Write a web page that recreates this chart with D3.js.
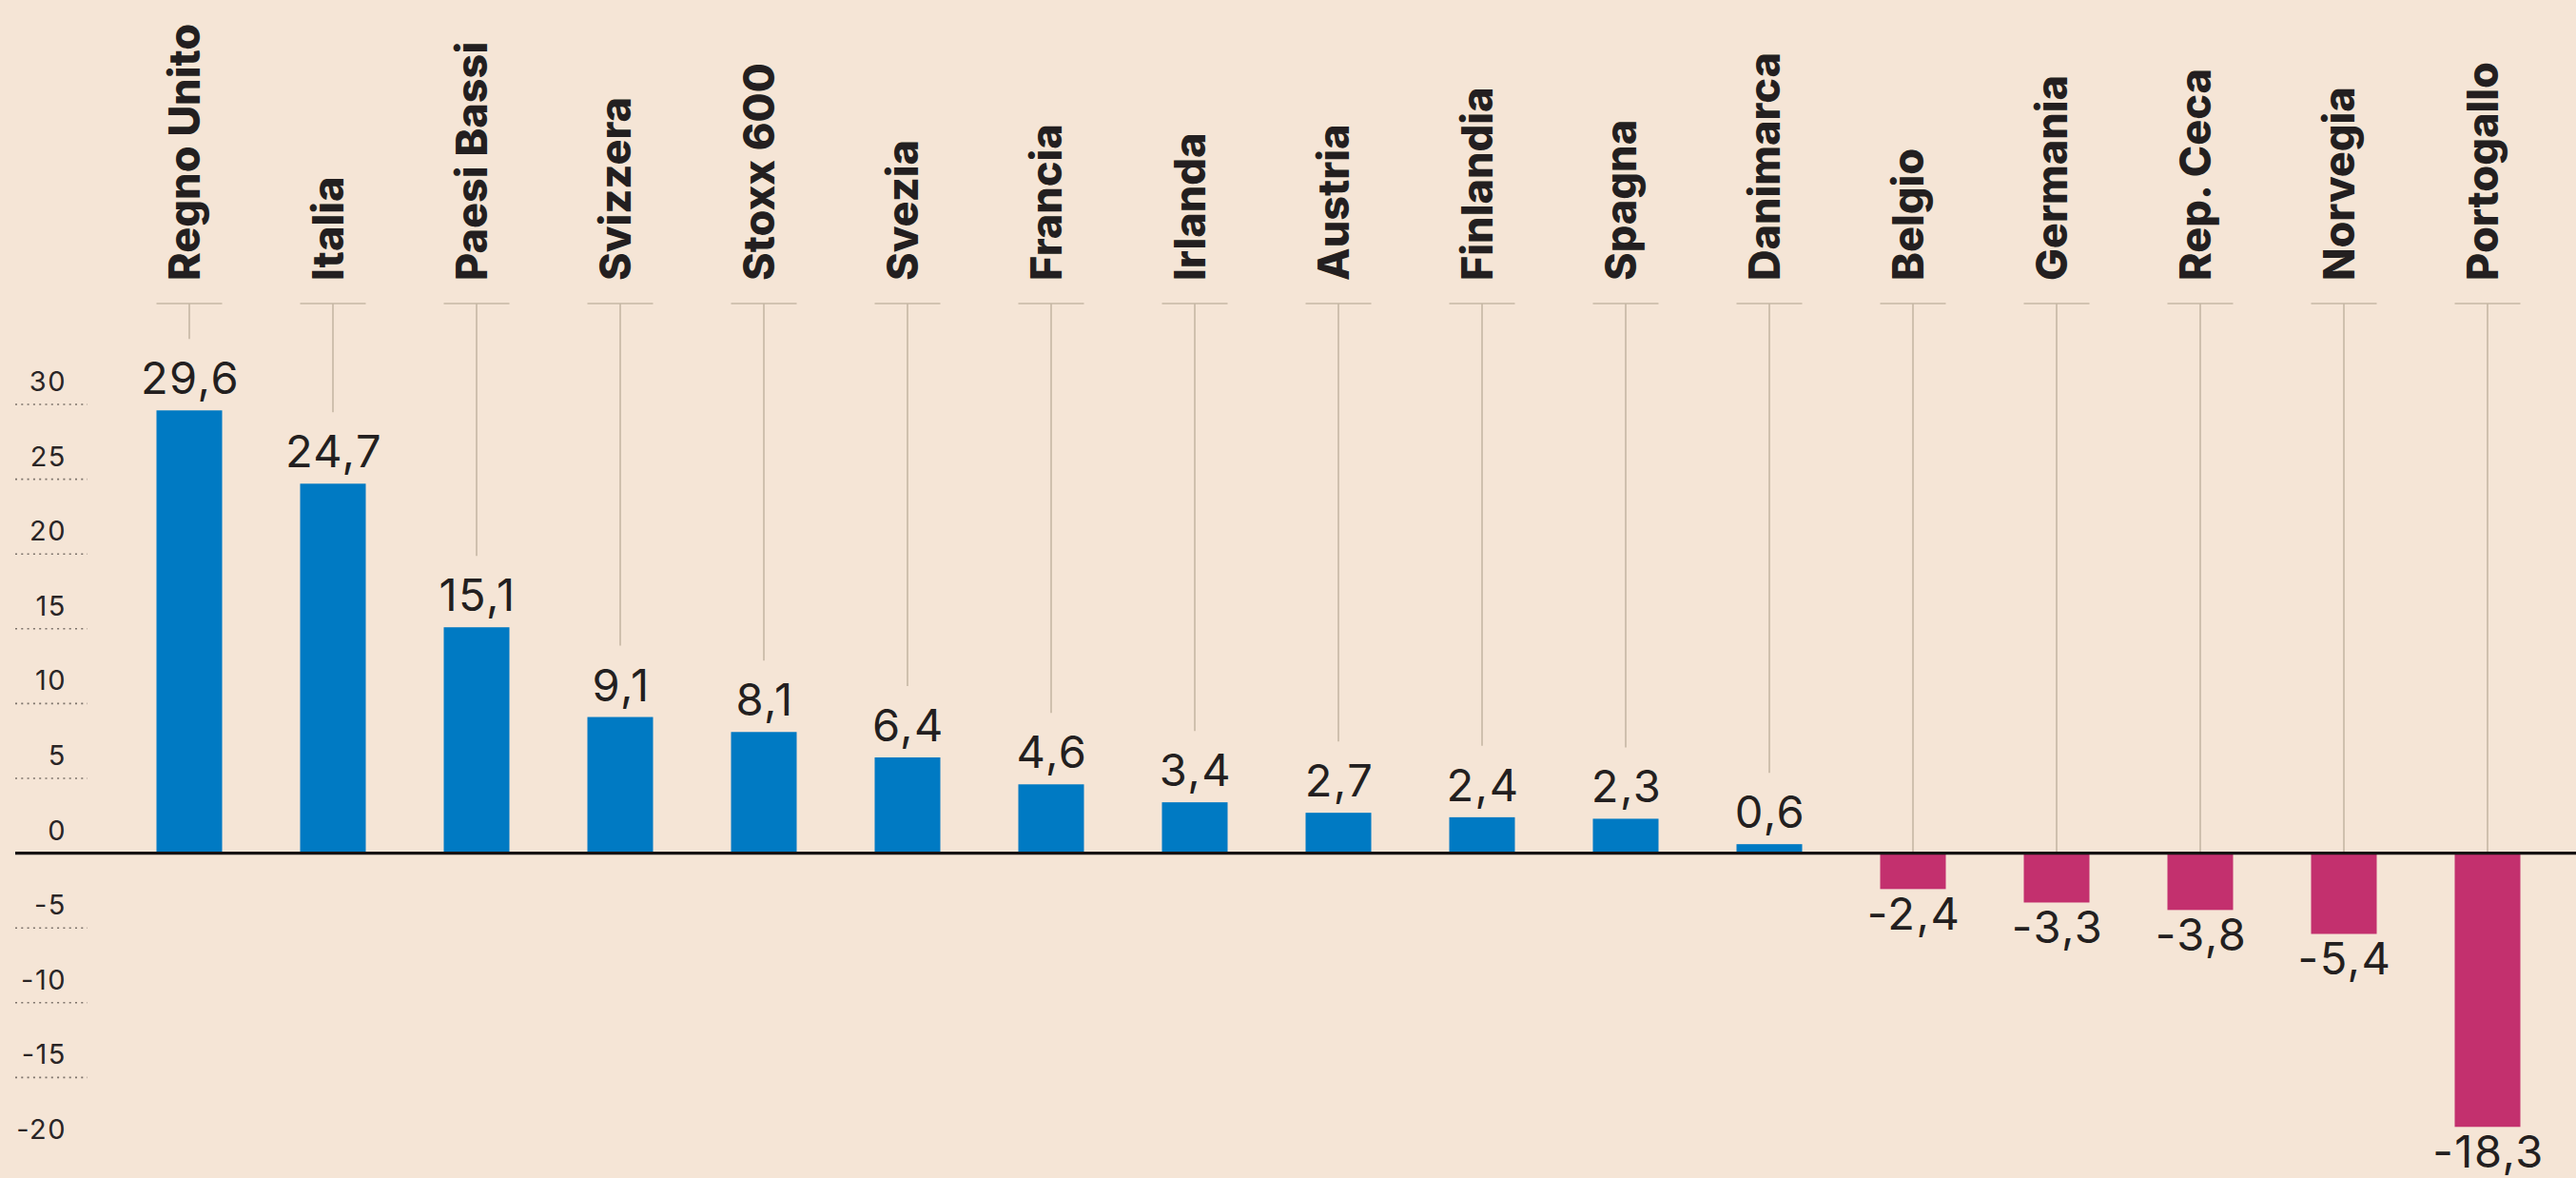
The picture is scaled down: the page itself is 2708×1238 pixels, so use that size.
<!DOCTYPE html>
<html><head><meta charset="utf-8">
<script src="https://cdn.jsdelivr.net/npm/d3@7"></script>
<style>
html,body{margin:0;padding:0;background:#F5E5D6;}
svg{display:block;}
</style></head>
<body>
<svg id="chart" width="2708" height="1238"></svg>
<script>
const categories = ["Regno Unito","Italia","Paesi Bassi","Svizzera","Stoxx 600","Svezia","Francia","Irlanda","Austria","Finlandia","Spagna","Danimarca","Belgio","Germania","Rep. Ceca","Norvegia","Portogallo"];
const values = [29.6,24.7,15.1,9.1,8.1,6.4,4.6,3.4,2.7,2.4,2.3,0.6,-2.4,-3.3,-3.8,-5.4,-18.3];
const yTicks = [30,25,20,15,10,5,0,-5,-10,-15,-20];
const yTickLabels = ["30","25","20","15","10","5","0","-5","-10","-15","-20"];
const dottedTicks = [30,25,20,15,10,5,-5,-10,-15];

const W = 2708, H = 1238;
const svg = d3.select("#chart");
svg.append("rect").attr("width",W).attr("height",H).attr("fill","#F5E5D6");

const x = d3.scaleBand().domain(categories).range([123.5, 2690.5]).paddingInner(0.543).paddingOuter(0.2715);
const y = d3.scaleLinear().domain([-20,30]).range([1211, 425]);
const locale = d3.formatLocale({decimal:",", thousands:".", grouping:[3], currency:["€",""], minus:"-"});
const fmt = locale.format(".1f");

const data = categories.map((c,i)=>({c, v: values[i]}));
const cx = d => x(d.c) + x.bandwidth()/2;
const crossY = 319;

// y tick dotted lines
svg.append("g").selectAll("line").data(dottedTicks).join("line")
  .attr("x1",16).attr("x2",92)
  .attr("y1",d=>y(d)).attr("y2",d=>y(d))
  .attr("stroke","#7d736b").attr("stroke-width",1.6).attr("stroke-dasharray","2,4.3");

// y tick labels
svg.append("g").selectAll("text").data(yTicks).join("text")
  .attr("x",70).attr("y",d=>y(d)-14)
  .attr("text-anchor","end")
  .attr("font-family","Inter, 'DejaVu Sans', sans-serif")
  .attr("font-size",29).attr("fill","#2a2526")
  .attr("letter-spacing",1.5)
  .text((d,i)=>yTickLabels[i]);

// connectors
const g = svg.append("g");
g.selectAll("line.cross").data(data).join("line").attr("class","cross")
  .attr("x1",d=>x(d.c)).attr("x2",d=>x(d.c)+x.bandwidth())
  .attr("y1",crossY).attr("y2",crossY)
  .attr("stroke","#c6b7a4").attr("stroke-width",1.6);
g.selectAll("line.vert").data(data).join("line").attr("class","vert")
  .attr("x1",cx).attr("x2",cx)
  .attr("y1",crossY)
  .attr("y2",d=> d.v>=0 ? y(d.v)-17-34-24 : y(0))
  .attr("stroke","#c6b7a4").attr("stroke-width",1.6);

// bars
svg.append("g").selectAll("rect").data(data).join("rect")
  .attr("x",d=>x(d.c)).attr("width",x.bandwidth())
  .attr("y",d=>y(Math.max(0,d.v)))
  .attr("height",d=>Math.abs(y(d.v)-y(0)))
  .attr("fill",d=>d.v>=0?"#007AC3":"#C3306E");

// zero line
svg.append("line").attr("x1",16).attr("x2",W).attr("y1",y(0)).attr("y2",y(0))
  .attr("stroke","#161213").attr("stroke-width",3.2);

// value labels
svg.append("g").selectAll("text").data(data).join("text")
  .attr("x",d=>cx(d)+1)
  .attr("y",d=> d.v>=0 ? y(d.v)-17 : y(d.v)+43)
  .attr("text-anchor","middle")
  .attr("font-family","Inter, 'DejaVu Sans', sans-serif")
  .attr("font-size",47).attr("fill","#231F20")
  .attr("letter-spacing",1.5)
  .text(d=>fmt(d.v));

// category labels
svg.append("g").selectAll("text").data(data).join("text")
  .attr("transform",d=>`translate(${cx(d)+11},295) rotate(-90)`)
  .attr("text-anchor","start")
  .attr("font-family","Inter, 'DejaVu Sans', sans-serif")
  .attr("font-weight",800)
  .attr("font-size",45).attr("fill","#231F20")
  .text(d=>d.c);
</script>
</body></html>
